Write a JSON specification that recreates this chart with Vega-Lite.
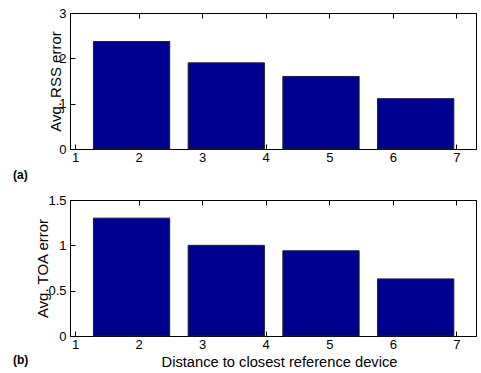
{
  "$schema": "https://vega.github.io/schema/vega-lite/v6.json",
  "padding": {"left": 12, "top": 6, "right": 0, "bottom": 0},
  "background": "white",
  "datasets": {
    "rss": [
      {"lo": 1.29, "hi": 2.49, "err": 2.37},
      {"lo": 2.78, "hi": 3.98, "err": 1.9},
      {"lo": 4.27, "hi": 5.47, "err": 1.6},
      {"lo": 5.76, "hi": 6.96, "err": 1.11}
    ],
    "toa": [
      {"lo": 1.29, "hi": 2.49, "err": 1.3},
      {"lo": 2.78, "hi": 3.98, "err": 1.0},
      {"lo": 4.27, "hi": 5.47, "err": 0.94},
      {"lo": 5.76, "hi": 6.96, "err": 0.63}
    ]
  },
  "bounds": "flush",
  "spacing": 51,
  "vconcat": [
    {
      "width": 406,
      "height": 136,
      "data": {"name": "rss"},
      "title": {"text": "(a)", "orient": "bottom", "anchor": "start", "frame": "group", "dx": -57, "offset": 6, "fontWeight": "bold", "fontSize": 12, "baseline": "top"},
      "layer": [
        {
          "mark": {"type": "bar", "color": "#00008F", "stroke": "#222222", "strokeWidth": 1, "orient": "vertical"},
          "encoding": {
            "x": {"field": "lo", "type": "quantitative", "scale": {"domain": [1, 7.23], "nice": false, "zero": false},
                  "axis": {"orient": "bottom", "values": [1, 2, 3, 4, 5, 6, 7], "title": null, "tickSize": -5, "labelPadding": 7}},
            "x2": {"field": "hi"},
            "y": {"field": "err", "type": "quantitative", "scale": {"domain": [0, 3], "nice": false},
                  "axis": {"values": [0, 1, 2, 3], "format": "~g", "title": "Avg. RSS error", "titleX": -15, "titleY": 68, "titleBaseline": "middle", "titleFontSize": 15, "tickSize": -5, "labelPadding": 9}},
            "y2": {"datum": 0}
          }
        },
        {
          "mark": {"type": "bar", "opacity": 0, "orient": "vertical"},
          "encoding": {
            "x": {"field": "lo", "type": "quantitative", "scale": {"domain": [1, 7.23], "nice": false, "zero": false},
                  "axis": {"orient": "top", "values": [2, 3, 4, 5, 6, 7], "labels": false, "title": null, "tickSize": -5}},
            "x2": {"field": "hi"},
            "y": {"field": "err", "type": "quantitative", "scale": {"domain": [0, 3], "nice": false}},
            "y2": {"datum": 0}
          }
        }
      ],
      "resolve": {"axis": {"x": "independent"}}
    },
    {
      "width": 406,
      "height": 136,
      "data": {"name": "toa"},
      "title": {"text": "(b)", "orient": "bottom", "anchor": "start", "frame": "group", "dx": -57, "offset": -14, "fontWeight": "bold", "fontSize": 12, "baseline": "top"},
      "layer": [
        {
          "mark": {"type": "bar", "color": "#00008F", "stroke": "#222222", "strokeWidth": 1, "orient": "vertical"},
          "encoding": {
            "x": {"field": "lo", "type": "quantitative", "scale": {"domain": [1, 7.23], "nice": false, "zero": false},
                  "axis": {"orient": "bottom", "values": [1, 2, 3, 4, 5, 6, 7], "title": "Distance to closest reference device", "titleX": 209, "titleY": 26, "titleBaseline": "middle", "titleFontSize": 14.7, "tickSize": -5, "labelPadding": 7}},
            "x2": {"field": "hi"},
            "y": {"field": "err", "type": "quantitative", "scale": {"domain": [0, 1.5], "nice": false},
                  "axis": {"values": [0, 0.5, 1, 1.5], "format": "~g", "title": "Avg. TOA error", "titleX": -28, "titleY": 68, "titleBaseline": "middle", "titleFontSize": 15, "tickSize": -5, "labelPadding": 9}},
            "y2": {"datum": 0}
          }
        },
        {
          "mark": {"type": "bar", "opacity": 0, "orient": "vertical"},
          "encoding": {
            "x": {"field": "lo", "type": "quantitative", "scale": {"domain": [1, 7.23], "nice": false, "zero": false},
                  "axis": {"orient": "top", "values": [2, 3, 4, 5, 6, 7], "labels": false, "title": null, "tickSize": -5}},
            "x2": {"field": "hi"},
            "y": {"field": "err", "type": "quantitative", "scale": {"domain": [0, 1.5], "nice": false}},
            "y2": {"datum": 0}
          }
        }
      ],
      "resolve": {"axis": {"x": "independent"}}
    }
  ],
  "config": {
    "font": "Liberation Sans",
    "view": {"stroke": "black", "strokeWidth": 1},
    "axis": {
      "grid": false,
      "domainColor": "black",
      "tickColor": "black",
      "labelColor": "black",
      "titleColor": "black",
      "labelFontSize": 13,
      "titleFontSize": 13,
      "titleFontWeight": "normal",
      "labelFont": "Liberation Sans",
      "titleFont": "Liberation Sans"
    },
    "title": {"font": "Liberation Sans", "color": "black"}
  }
}
